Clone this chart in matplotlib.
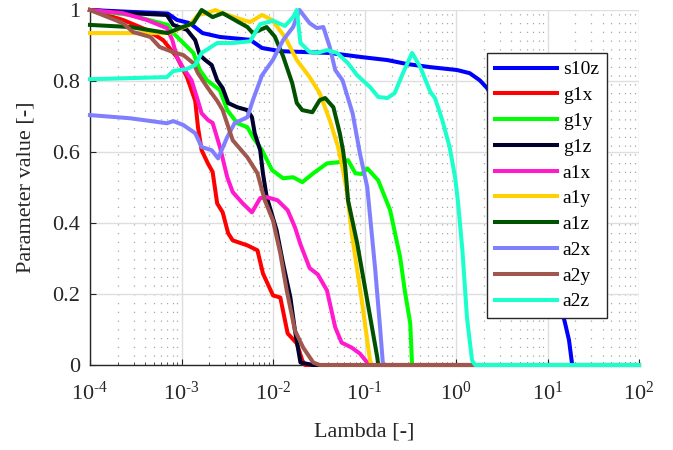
import numpy as np
import matplotlib
matplotlib.use("Agg")
import matplotlib.pyplot as plt
from matplotlib.ticker import LogLocator, FixedLocator, FuncFormatter, NullFormatter

plt.rcParams['font.family'] = ['Liberation Serif', 'DejaVu Serif']
plt.rcParams['mathtext.fontset'] = 'custom'
plt.rcParams['mathtext.rm'] = 'Liberation Serif'
plt.rcParams['mathtext.it'] = 'Liberation Serif:italic'
plt.rcParams['mathtext.bf'] = 'Liberation Serif:bold'

# Regularisation path: log10(lambda) and normalised parameter value per parameter
s10z_loglam = [-4, -3.15, -3.05, -2.91, -2.77, -2.58, -2.25, -2.12, -1.92, -1.38, -1.02, -0.75,
               -0.54, -0.28, 0.01, 0.15, 0.26, 0.34, 0.48, 0.70, 0.92, 1.08, 1.19, 1.235, 1.27, 2]
s10z_val = [1.0, 0.99, 0.972, 0.963, 0.935, 0.924, 0.916, 0.893, 0.884, 0.879, 0.867, 0.859,
            0.848, 0.839, 0.831, 0.822, 0.802, 0.780, 0.72, 0.58, 0.40, 0.23, 0.12, 0.07, 0.0, 0.0]

g1x_loglam = [-4, -3.64, -3.38, -3.20, -3.05, -2.94, -2.85, -2.82, -2.78, -2.71, -2.66, -2.61,
              -2.55, -2.49, -2.44, -2.28, -2.17, -2.11, -2.00, -1.92, -1.84, -1.74, -1.68, -1.65, 2]
g1x_val = [1.0, 0.972, 0.944, 0.915, 0.867, 0.811, 0.744, 0.670, 0.605, 0.567, 0.544, 0.455,
           0.430, 0.371, 0.351, 0.337, 0.323, 0.258, 0.196, 0.190, 0.089, 0.061, 0.013, 0.0, 0.0]

g1y_loglam = [-4, -3.56, -3.27, -3.15, -3.09, -2.98, -2.87, -2.80, -2.72, -2.58, -2.50, -2.39,
              -2.28, -2.22, -2.12, -2.01, -1.89, -1.78, -1.68, -1.56, -1.41, -1.29, -1.18, -1.10,
              -1.03, -0.97, -0.85, -0.72, -0.61, -0.56, -0.50, -0.48, 2]
g1y_val = [1.0, 0.986, 0.966, 0.958, 0.935, 0.907, 0.879, 0.831, 0.802, 0.774, 0.718, 0.681,
           0.670, 0.642, 0.605, 0.549, 0.526, 0.529, 0.515, 0.540, 0.568, 0.571, 0.577, 0.540,
           0.538, 0.554, 0.520, 0.436, 0.303, 0.210, 0.117, 0.0, 0.0]

g1z_loglam = [-4, -3.56, -3.16, -3.09, -2.94, -2.85, -2.80, -2.74, -2.67, -2.61, -2.55, -2.49,
              -2.39, -2.28, -2.23, -2.20, -2.14, -2.11, -2.07, -1.96, -1.89, -1.81, -1.76, -1.70,
              -1.56, 2]
g1z_val = [1.0, 0.991, 0.986, 0.958, 0.944, 0.915, 0.873, 0.859, 0.845, 0.802, 0.780, 0.738,
           0.726, 0.718, 0.698, 0.653, 0.605, 0.540, 0.475, 0.379, 0.286, 0.190, 0.097, 0.007,
           0.0, 0.0]

a1x_loglam = [-4, -3.64, -3.38, -3.16, -3.10, -3.05, -2.98, -2.89, -2.82, -2.78, -2.71, -2.66,
              -2.58, -2.50, -2.44, -2.33, -2.23, -2.14, -2.07, -1.95, -1.84, -1.76, -1.70, -1.60,
              -1.51, -1.41, -1.32, -1.25, -1.14, -1.05, -0.97, -0.94, 2]
a1x_val = [1.0, 0.991, 0.972, 0.949, 0.915, 0.867, 0.836, 0.802, 0.744, 0.709, 0.690, 0.682,
           0.614, 0.529, 0.487, 0.455, 0.430, 0.470, 0.473, 0.464, 0.436, 0.388, 0.340, 0.273,
           0.255, 0.210, 0.106, 0.063, 0.049, 0.032, 0.007, 0.0, 0.0]

a1y_loglam = [-4, -3.13, -3.05, -2.91, -2.82, -2.72, -2.63, -2.55, -2.39, -2.25, -2.12, -2.01,
              -1.87, -1.74, -1.60, -1.49, -1.38, -1.29, -1.235, -1.19, -1.14, -1.03, -0.94,
              -0.92, 2]
a1y_val = [0.935, 0.935, 0.944, 0.958, 0.986, 0.991, 1.0, 0.991, 0.977, 0.966, 0.986, 0.972,
           0.924, 0.859, 0.811, 0.766, 0.690, 0.615, 0.549, 0.484, 0.371, 0.182, 0.013, 0.0, 0.0]

a1z_loglam = [-4, -3.56, -3.15, -3.02, -2.87, -2.78, -2.66, -2.55, -2.28, -2.22, -2.07, -1.98,
              -1.89, -1.79, -1.74, -1.68, -1.57, -1.49, -1.43, -1.34, -1.27, -1.235, -1.21,
              -1.18, -1.08, -0.97, -0.86, -0.85, 2]
a1z_val = [0.958, 0.952, 0.935, 0.949, 0.963, 1.0, 0.980, 0.991, 0.952, 0.935, 0.952, 0.925,
           0.870, 0.794, 0.738, 0.718, 0.712, 0.746, 0.752, 0.726, 0.653, 0.605, 0.557, 0.464,
           0.343, 0.182, 0.021, 0.0, 0.0]

a2x_loglam = [-4, -3.56, -3.16, -3.09, -2.98, -2.85, -2.78, -2.67, -2.60, -2.50, -2.42, -2.28,
              -2.22, -2.12, -2.00, -1.89, -1.78, -1.71, -1.60, -1.52, -1.45, -1.38, -1.32, -1.24,
              -1.13, -1.05, -0.97, -0.885, -0.83, -0.80, -0.78, 2]
a2x_val = [0.704, 0.695, 0.681, 0.687, 0.676, 0.653, 0.614, 0.605, 0.582, 0.642, 0.681, 0.698,
           0.746, 0.816, 0.860, 0.915, 0.952, 1.0, 0.963, 0.949, 0.952, 0.896, 0.831, 0.802,
           0.709, 0.596, 0.501, 0.275, 0.106, 0.007, 0.0, 0.0]

a2y_loglam = [-4, -3.64, -3.53, -3.34, -3.24, -3.10, -2.98, -2.87, -2.82, -2.72, -2.61, -2.55,
              -2.44, -2.28, -2.17, -2.09, -2.00, -1.92, -1.85, -1.76, -1.67, -1.56, -1.49, 2]
a2y_val = [1.0, 0.963, 0.938, 0.924, 0.896, 0.882, 0.873, 0.850, 0.822, 0.783, 0.744, 0.718,
           0.633, 0.585, 0.540, 0.464, 0.407, 0.314, 0.210, 0.097, 0.049, 0.007, 0.0, 0.0]

a2z_loglam = [-4, -3.16, -3.09, -2.94, -2.85, -2.78, -2.61, -2.44, -2.25, -2.14, -2.00, -1.87,
              -1.78, -1.74, -1.70, -1.60, -1.52, -1.41, -1.30, -1.18, -1.08, -0.94, -0.85, -0.75,
              -0.67, -0.58, -0.48, -0.39, -0.28, -0.23, -0.15, -0.07, -0.01, 0.02, 0.07, 0.12,
              0.175, 0.21, 2]
a2z_val = [0.805, 0.811, 0.828, 0.834, 0.845, 0.879, 0.907, 0.907, 0.912, 0.960, 0.970, 0.955,
           0.980, 1.0, 0.907, 0.882, 0.879, 0.887, 0.879, 0.850, 0.816, 0.783, 0.755, 0.752,
           0.766, 0.822, 0.879, 0.839, 0.769, 0.752, 0.690, 0.614, 0.529, 0.464, 0.323, 0.134,
           0.013, 0.0, 0.0]

series_names = ['s10z', 'g1x', 'g1y', 'g1z', 'a1x', 'a1y', 'a1z', 'a2x', 'a2y', 'a2z']
series_loglam = [s10z_loglam, g1x_loglam, g1y_loglam, g1z_loglam, a1x_loglam,
                 a1y_loglam, a1z_loglam, a2x_loglam, a2y_loglam, a2z_loglam]
series_values = [s10z_val, g1x_val, g1y_val, g1z_val, a1x_val,
                 a1y_val, a1z_val, a2x_val, a2y_val, a2z_val]
series_colors = ['#0000FF', '#FF0000', '#00FF00', '#00002E', '#FF1ACD',
                 '#FFD100', '#005200', '#8080FF', '#A0574D', '#1AFFCC']

y_ticks = [0, 0.2, 0.4, 0.6, 0.8, 1]
y_tick_labels = ['0', '0.2', '0.4', '0.6', '0.8', '1']
x_decades = [-4, -3, -2, -1, 0, 1, 2]

HYPHEN = '\u2010'


def decade_label(v, pos):
    e = int(round(np.log10(v)))
    if e < 0:
        return '$10^{' + HYPHEN + str(-e) + '}$'
    return '$10^{' + str(e) + '}$'


W, H = 673, 450
fig = plt.figure(figsize=(W / 100, H / 100), dpi=100)
ax = fig.add_axes([90 / W, 1 - 365 / H, (639 - 90) / W, (365 - 10) / H])

for name, ll, vals, col in zip(series_names, series_loglam, series_values, series_colors):
    ax.plot(10.0 ** np.asarray(ll), vals, color=col, lw=2.9, label=name,
            solid_joinstyle='round', clip_on=False, zorder=3)

ax.set_xscale('log')
ax.set_xlim(1e-4, 1e2)
ax.set_ylim(0, 1)

ax.xaxis.set_major_locator(FixedLocator([10.0 ** d for d in x_decades]))
ax.xaxis.set_major_formatter(FuncFormatter(decade_label))
ax.xaxis.set_minor_locator(LogLocator(base=10, subs=np.arange(2, 10), numticks=20))
ax.xaxis.set_minor_formatter(NullFormatter())
ax.set_yticks(y_ticks)
ax.set_yticklabels(y_tick_labels)

ax.grid(True, which='major', color='#DEDEDE', lw=1.0, ls='-', zorder=0)
ax.xaxis.grid(True, which='minor', color='#A8A8A8', lw=0.9, ls=(0, (1, 6)))
ax.set_axisbelow(True)

for side in ('top', 'right'):
    ax.spines[side].set_visible(False)
for side in ('left', 'bottom'):
    ax.spines[side].set_color('#262626')
    ax.spines[side].set_linewidth(1.0)

ax.tick_params(which='both', direction='in', colors='#262626', labelsize=16)
ax.tick_params(which='major', length=4.5, width=0.8)
ax.tick_params(which='minor', length=2.5, width=0.6)
ax.tick_params(axis='x', which='major', pad=12)
ax.tick_params(axis='y', which='major', pad=7)

ax.set_xlabel('Lambda [-]', fontsize=16, color='#262626', labelpad=13)
ax.set_ylabel('Parameter value [-]', fontsize=16, color='#262626', labelpad=12)

leg = ax.legend(loc='upper left', bbox_to_anchor=(487 / W, 1 - 53 / H),
                bbox_transform=fig.transFigure, borderaxespad=0, fontsize=14,
                frameon=True, fancybox=False, framealpha=1, edgecolor='#262626',
                handlelength=3.2, handletextpad=0.3, labelspacing=0.42, borderpad=0.4)
leg.get_frame().set_linewidth(1.0)
leg.set_zorder(10)

fig.savefig('out.png', dpi=100)
